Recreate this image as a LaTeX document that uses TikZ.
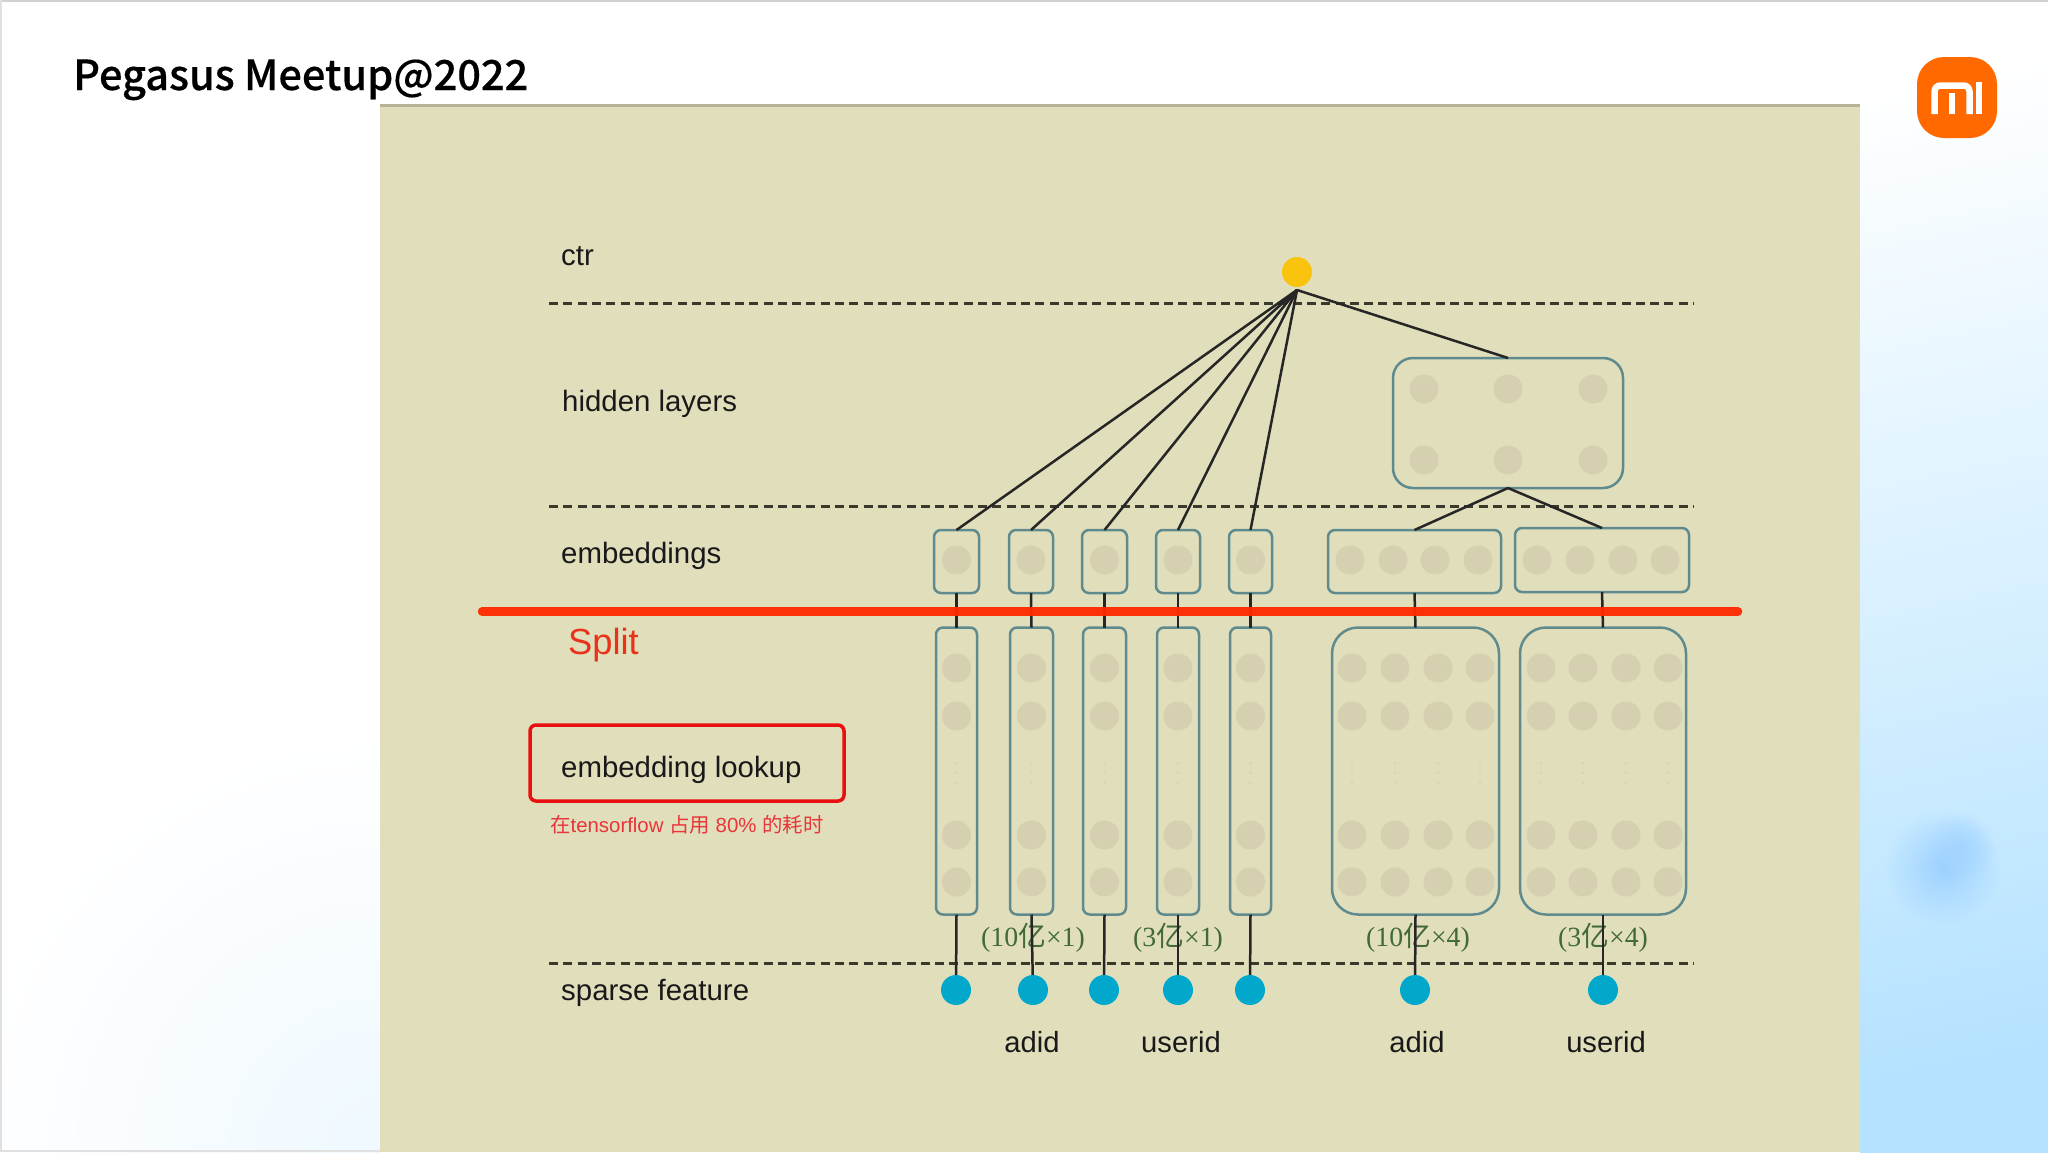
\documentclass[tikz,border=0pt]{standalone}
\usepackage{fontspec}
\setmainfont{Liberation Sans}
\newfontfamily\cjk{Noto Sans CJK SC}
\newfontfamily\titlefont[FakeBold=0.35]{Noto Sans CJK SC Medium}
\newfontfamily\serifgreen{Liberation Serif}
\usetikzlibrary{fadings}
\tikzfading[name=softblob,inner color=transparent!0,outer color=transparent!100]
\definecolor{panelc}{HTML}{E1DEBB}
\definecolor{dotc}{HTML}{D5D1B0}
\definecolor{boxc}{HTML}{5F8B8E}
\definecolor{bluec}{HTML}{02A8CC}
\definecolor{yellowc}{HTML}{F9C30E}
\definecolor{splitc}{HTML}{FF2A00}
\definecolor{greenc}{HTML}{41693A}
\definecolor{dashc}{HTML}{3A3A2C}
\definecolor{skyc}{HTML}{B4E2FF}
\definecolor{blobc}{HTML}{9ED2FF}
\tikzset{
  cellbox/.style={draw=boxc,line width=2.5pt,rounded corners=7pt,inner sep=0pt,outer sep=0pt},
  bigbox/.style={cellbox,rounded corners=26pt},
  dotn/.style={circle,fill=dotc,minimum size=29pt,inner sep=0pt,outer sep=0pt},
  bluen/.style={circle,fill=bluec,minimum size=30pt,inner sep=0pt,outer sep=0pt},
  wire/.style={draw=black!85,line width=2.5pt},
  dashl/.style={draw=dashc,line width=2.5pt,dash pattern=on 9pt off 5.3pt},
  lab/.style={anchor=west,inner sep=0pt,font=\fontsize{29.4}{32}\selectfont,text=black!90},
  lab2/.style={inner sep=0pt,font=\fontsize{29.2}{32}\selectfont,text=black!90},
  glab/.style={inner sep=0pt,text=greenc,font=\fontsize{27.8}{30}\serifgreen},
}
\begin{document}
\begin{tikzpicture}[x=1pt,y=-1pt]
\useasboundingbox (0,0) rectangle (2048,1152);
% background
\fill[white] (0,0) rectangle (2048,1152);
\begin{scope}
  \clip (0,0) rectangle (380,1152);
  \shade[inner color=skyc!22!white,outer color=white] (380,1152) circle (420);
\end{scope}
\shade[top color=white,middle color=skyc!70!white,bottom color=skyc,shading angle=12] (1860,0) rectangle (2048,1152);
\fill[blobc,path fading=softblob] (1943,868) circle (58);
\fill[blobc,opacity=.7,path fading=softblob] (1961,846) circle (34);
\fill[black!18] (0,0) rectangle (2048,2);
\fill[black!12] (0,0) rectangle (1.5,1152);
\fill[black!12] (0,1150) rectangle (380,1152);
% title and logo
\node[anchor=base west,inner sep=0pt,font=\fontsize{41.5}{44}\titlefont] (title) at (73,90) {Pegasus Meetup@2022};
\node[fill={rgb,255:red,255;green,105;blue,0},rounded corners=27pt,minimum width=80pt,minimum height=81pt,inner sep=0pt] (logo) at (1957,97.5) {};
\draw[white,line width=6.5pt,rounded corners=6pt] (1934.5,114) -- (1934.5,85.5) -- (1969.5,85.5) -- (1969.5,114);
\draw[white,line width=6.5pt] (1952,93) -- (1952,114);
\draw[white,line width=6.5pt] (1979,82) -- (1979,114);
% panel
\fill[panelc] (380,105) rectangle (1860,1152);
\fill[black!20!panelc] (380,104) rectangle (1860,107);
% dashed
\coordinate (d1a) at (549,303.5); \coordinate (d1b) at (1694,303.5);
\coordinate (d2a) at (549,506.5); \coordinate (d2b) at (1694,506.5);
\coordinate (d3a) at (549,963.5); \coordinate (d3b) at (1694,963.5);
\draw[dashl] (d1a) -- (d1b);
\draw[dashl] (d2a) -- (d2b);
\draw[dashl] (d3a) -- (d3b);
% labels
\node[lab] (lctr) at (561,256) {ctr};
\node[lab] (lhid) at (562,404) {hidden layers};
\node[lab] (lemb) at (561,556) {embeddings};
\node[lab] (lspa) at (561,993) {sparse feature};
\node[lab,font=\fontsize{36.3}{40}\selectfont,text={rgb,255:red,232;green,50;blue,26}] (lsplit) at (568,645) {Split};
\node[draw={rgb,255:red,232;green,16;blue,16},line width=3.5pt,rounded corners=6pt,minimum width=314pt,minimum height=76pt,inner sep=0pt] (redbox) at (687,763) {};
\node[lab] (llook) at (561,770) {embedding lookup};
\node[anchor=west,inner sep=0pt,text={rgb,255:red,232;green,53;blue,58},font=\fontsize{20.4}{24}\selectfont] (lcap) at (550,825) {{\cjk 在}tensorflow {\cjk 占用} 80\% {\cjk 的耗时}};
% hidden box
\node[bigbox,rounded corners=20pt,minimum width=230pt,minimum height=130pt] (hid) at (1508,423) {};
\foreach \n/\x/\y in {a/1424/389,b/1508/389,c/1593/389,d/1424/460,e/1508/460,f/1593/460}
  \node[dotn] (hd\n) at (\x,\y) {};
% top embedding cells
\foreach \n/\x/\w in {1/956.5/45,2/1031/44,3/1104.5/45,4/1178/44,5/1250.5/43}{
  \node[cellbox,minimum width=\w pt,minimum height=63pt] (t\n) at (\x,561.5) {};
  \node[dotn] (td\n) at (\x,560) {};
}
\node[cellbox,minimum width=173pt,minimum height=63pt] (tw1) at (1414.5,561.5) {};
\node[cellbox,minimum width=174pt,minimum height=64pt] (tw2) at (1602,560) {};
\foreach \x [count=\i] in {1350,1393,1435,1478} \node[dotn] (twa\i) at (\x,560) {};
\foreach \x [count=\i] in {1537,1580,1623,1665} \node[dotn] (twb\i) at (\x,560) {};
% tall lookup cells
\foreach \n/\x/\w in {1/956.5/41,2/1031.5/43,3/1104.5/43,4/1178/42,5/1250.5/41}{
  \node[cellbox,minimum width=\w pt,minimum height=287pt] (c\n) at (\x,771) {};
  \foreach \y [count=\j] in {668,716,835,882} \node[dotn] (cd\n\j) at (\x,\y) {};
  \foreach \y in {763,773,783} \fill[dotc!60!panelc] (\x,\y) circle (1.6);
}
\node[bigbox,minimum width=167pt,minimum height=287pt] (cw1) at (1415.5,771) {};
\node[bigbox,minimum width=166pt,minimum height=287pt] (cw2) at (1603,771) {};
\foreach \x [count=\i] in {1352,1395,1438,1480}{
  \foreach \y [count=\j] in {668,716,835,882} \node[dotn] (cwa\i\j) at (\x,\y) {};
  \foreach \y in {763,773,783} \fill[dotc!60!panelc] (\x,\y) circle (1.6);
}
\foreach \x [count=\i] in {1541,1583,1626,1668}{
  \foreach \y [count=\j] in {668,716,835,882} \node[dotn] (cwb\i\j) at (\x,\y) {};
  \foreach \y in {763,773,783} \fill[dotc!60!panelc] (\x,\y) circle (1.6);
}
% sparse nodes
\foreach \n/\x in {1/956,2/1033,3/1104,4/1178,5/1250,6/1415,7/1603}
  \coordinate (s\n) at (\x,990);
% green labels
\node[glab] (g1) at (1033,938) {(10{\cjk 亿}×1)};
\node[glab] (g2) at (1178,938) {(3{\cjk 亿}×1)};
\node[glab] (g3) at (1418,938) {(10{\cjk 亿}×4)};
\node[glab] (g4) at (1603,938) {(3{\cjk 亿}×4)};
% connectors
\foreach \n in {1,2,3,4,5}{
  \draw[wire] (t\n.south) -- (c\n.north);
}
\draw[wire] (tw1.south) -- (cw1.north);
\draw[wire] (tw2.south) -- (cw2.north);
\foreach \n/\c in {1/c1,2/c2,3/c3,4/c4,5/c5,6/cw1,7/cw2}
  \draw[wire] (\c.south) -- (s\n);
\foreach \n/\c in {1/c1,2/c2,3/c3,4/c4,5/c5,6/cw1,7/cw2}
  \node[bluen] (b\n) at (s\n) {};
% output node
\node[circle,fill=yellowc,minimum size=30pt,inner sep=0pt,outer sep=0pt] (out) at (1297,272) {};
\coordinate (apex) at (1297,290);
\foreach \n in {t1,t2,t3,t4,t5,hid}
  \draw[wire] (apex) -- (\n.north);
\draw[wire] (hid.south) -- (tw1.north);
\draw[wire] (hid.south) -- (tw2.north);
% split line
\coordinate (sa) at (482,611.5); \coordinate (sb) at (1738,611.5);
\draw[splitc,opacity=.96,line width=8.5pt,line cap=round] (sa) -- (sb);
% word labels
\node[lab2] (wa1) at (1032,1042) {adid};
\node[lab2] (wu1) at (1181,1042) {userid};
\node[lab2] (wa2) at (1417,1042) {adid};
\node[lab2] (wu2) at (1606,1042) {userid};
\end{tikzpicture}
\end{document}
